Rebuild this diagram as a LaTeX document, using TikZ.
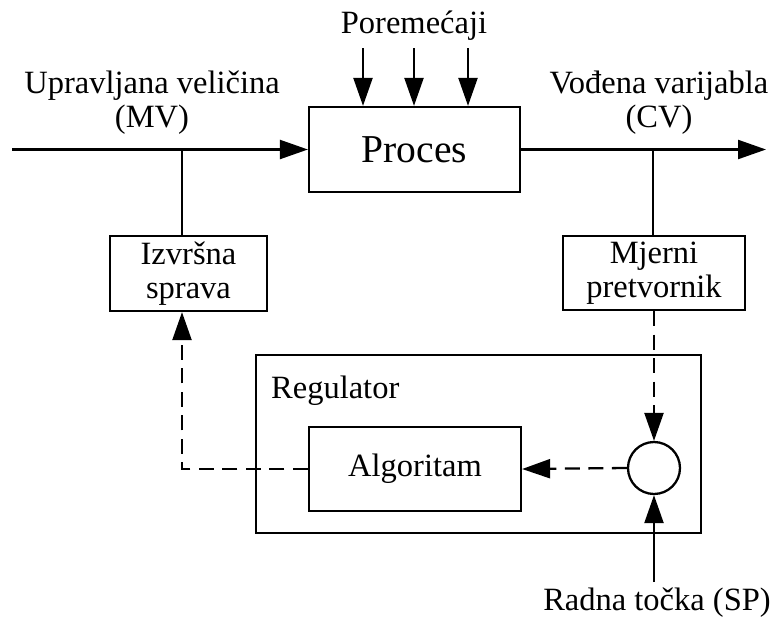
\documentclass[tikz,border=0pt]{standalone}
\usepackage{fontspec}
\setmainfont{Liberation Serif}
\usetikzlibrary{arrows.meta,positioning}

\begin{document}
\begin{tikzpicture}[
  x=0.02cm,y=-0.02cm,
  font=\fontsize{18.5}{19.5}\selectfont,
  line width=1.3pt,
  flow/.style={-{Triangle[length=0.56cm,width=0.38cm]},line width=1.3pt},
  signal/.style={flow,dash pattern=on 0.3cm off 0.17cm},
  box/.style={draw,rectangle,align=center,inner sep=0pt},
  sum/.style={draw,circle,minimum size=1.04cm,inner sep=0pt},
  label/.style={align=center,inner sep=0pt}
]
\useasboundingbox (0,0) rectangle (775,619);

\node[box,minimum width=4.22cm,minimum height=1.7cm,
  font=\fontsize{22.5}{24}\selectfont] (proces) at (414.5,149.5) {Proces};
\node[box,minimum width=3.14cm,minimum height=1.5cm] (izvrsna) at (188.5,273.5)
  {Izvršna\\sprava};
\node[box,minimum width=3.64cm,minimum height=1.48cm] (mjerni) at (654,273)
  {Mjerni\\pretvornik};
\draw (256,355) rectangle (701,533);
\node[anchor=base west,inner sep=0pt] (regulator) at (270,398) {Regulator};
\node[box,minimum width=4.24cm,minimum height=1.68cm] (algoritam) at (415,469)
  {Algoritam};
\node[sum] (zbroj) at (654,468) {};

\node[label] (mvlabel) at (152,103) {Upravljana veličina\\(MV)};
\node[label] (cvlabel) at (659,103) {Vođena varijabla\\(CV)};
\node[anchor=base,inner sep=0pt] (poremecaji) at (414,33) {Poremećaji};
\node[anchor=base,inner sep=0pt] (sp) at (657,610) {Radna točka (SP)};

\coordinate (mvin) at (12,149.5);
\coordinate (mvtap) at (182,149.5);
\coordinate (cvtap) at (653,149.5);
\coordinate (cvout) at (766,149.5);
\coordinate (spin) at (654,582);

\draw[flow] (mvin) -- (proces.west);
\draw[flow] (proces.east) -- (cvout);
\draw (mvtap) -- (mvtap |- izvrsna.north);
\draw (cvtap) -- (cvtap |- mjerni.north);
\foreach \x [count=\i] in {363,414,468} {
  \coordinate (d\i) at (\x,48);
  \draw[flow] (d\i) -- (d\i |- proces.north);
}

% feedback path through the regulator
\draw[signal] (mjerni.south) -- (zbroj.north);
\draw[signal] (zbroj.west) -- (algoritam.east);
\draw[signal] (algoritam.west) -| (mvtap |- izvrsna.south);
\draw[flow] (spin) -- (zbroj.south);
\end{tikzpicture}
\end{document}
